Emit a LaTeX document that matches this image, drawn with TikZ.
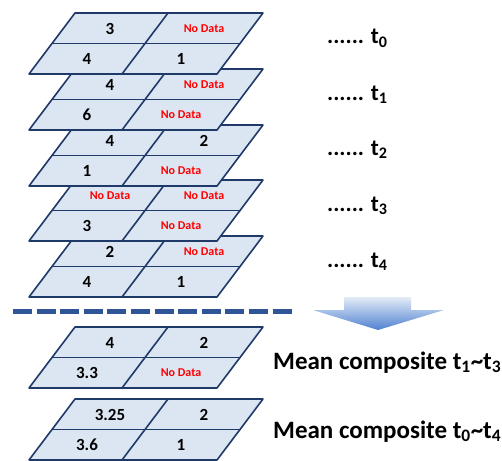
\documentclass[tikz,border=0pt]{standalone}
\usepackage{fontspec}
\setmainfont{Carlito}
\definecolor{cellfill}{HTML}{DCE6F2}
\definecolor{cellline}{HTML}{1F3A68}
\definecolor{nodata}{HTML}{FF0000}
\definecolor{dashblue}{HTML}{2F5597}
\definecolor{arrtop}{HTML}{E4ECF7}
\definecolor{arrbot}{HTML}{4F81D0}
\tikzset{
  gridline/.style={draw=cellline, line width=1.6pt, line join=round},
  celltext/.style={font=\fontsize{17}{19}\selectfont\bfseries, text=black, inner sep=0pt},
  timelabel/.style={font=\fontsize{23}{26}\selectfont\bfseries, anchor=base west, inner sep=0pt},
  meanlabel/.style={font=\fontsize{25}{28}\selectfont\bfseries, anchor=base west, inner sep=0pt},
}
\newcommand\ND{\textcolor{nodata}{\fontsize{12}{14}\selectfont No Data}}
% name, top y, top-left, top-right, bottom-left, bottom-right
\newcommand\gridlayer[6]{%
  \begin{scope}[shift={(0,#2)}]
    \fill[cellfill] (75,0) -- (263,0) -- (217,61) -- (29,61) -- cycle;
    \draw[gridline] (75,0) -- (263,0) -- (217,61) -- (29,61) -- cycle;
    \draw[gridline] (52,30.5) -- (240,30.5);
    \draw[gridline] (168,0) -- (122,61);
    \node[celltext] (#1-tl) at (110,15.5) {#3};
    \node[celltext] (#1-tr) at (204,15.5) {#4};
    \node[celltext] (#1-bl) at (87,46) {#5};
    \node[celltext] (#1-br) at (181,46) {#6};
  \end{scope}}
\begin{document}
\begin{tikzpicture}[x=1pt,y=-1pt]
  \useasboundingbox (0,0) rectangle (502,460);
  % stacked time layers (bottom first)
  \gridlayer{tf}{236}{2}{\ND}{4}{1}
  \gridlayer{tt}{180}{\ND}{\ND}{3}{\ND}
  \gridlayer{tw}{125}{4}{2}{1}{\ND}
  \gridlayer{to}{69}{4}{\ND}{6}{\ND}
  \gridlayer{tz}{13}{3}{\ND}{4}{1}
  % time labels
  \node[timelabel] (lz) at (327,44) {...... t\textsubscript{0}};
  \node[timelabel] (lo) at (327,100) {...... t\textsubscript{1}};
  \node[timelabel] (lw) at (327,155) {...... t\textsubscript{2}};
  \node[timelabel] (lt) at (327,211) {...... t\textsubscript{3}};
  \node[timelabel] (lf) at (327,267) {...... t\textsubscript{4}};
  % dashed separator
  \draw[dashblue, line width=5pt, dash pattern=on 19pt off 4.6pt] (13,311) -- (293,311);
  % block arrow
  \shade[top color=arrtop, bottom color=arrbot]
    (344,297) -- (411,297) -- (411,310) -- (444,310) -- (378,330) -- (313,310) -- (344,310) -- cycle;
  % composites
  \gridlayer{ca}{327}{4}{2}{3.3}{\ND}
  \gridlayer{cb}{399}{3.25}{2}{3.6}{1}
  \node[meanlabel] (ma) at (273,369) {Mean composite t\textsubscript{1}\textasciitilde t\textsubscript{3}};
  \node[meanlabel] (mb) at (273,438) {Mean composite t\textsubscript{0}\textasciitilde t\textsubscript{4}};
\end{tikzpicture}
\end{document}
